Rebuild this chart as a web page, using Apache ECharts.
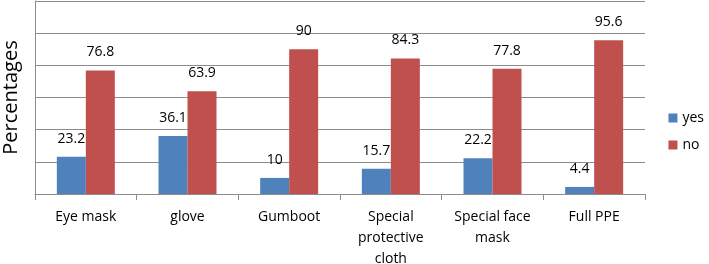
<!DOCTYPE html>
<html>
<head>
<meta charset="utf-8">
<script src="https://cdn.jsdelivr.net/npm/echarts@6/dist/echarts.min.js"></script>
<style>
  html, body { margin: 0; padding: 0; background: #fff; }
  #main { width: 709px; height: 264px; }
</style>
</head>
<body>
<div id="main"></div>
<script>
var categories = ['Eye mask', 'glove', 'Gumboot', 'Special\nprotective\ncloth', 'Special face\nmask', 'Full PPE'];
var yesValues = [23.2, 36.1, 10, 15.7, 22.2, 4.4];
var noValues = [76.8, 63.9, 90, 84.3, 77.8, 95.6];

var chart = echarts.init(document.getElementById('main'));

var labelStyle = {
  show: true,
  position: 'top',
  distance: 11,
  color: '#000',
  fontSize: 14,
  fontFamily: 'Open Sans'
};

var option = {
  animation: false,
  textStyle: { fontFamily: 'Open Sans' },
  grid: { left: 35, right: 64, top: 1, bottom: 70, outerBoundsMode: 'none' },
  legend: {
    orient: 'vertical',
    right: 0,
    top: 106,
    itemWidth: 9,
    itemHeight: 9,
    itemGap: 13,
    icon: 'rect',
    textStyle: { fontSize: 14, color: '#000', fontFamily: 'Open Sans' },
    data: ['yes', 'no']
  },
  xAxis: {
    type: 'category',
    data: categories,
    axisLine: { lineStyle: { color: '#8c8c8c' } },
    axisTick: { show: true, length: 6, lineStyle: { color: '#8c8c8c' } },
    axisLabel: { color: '#000', fontSize: 14, lineHeight: 21, margin: 13, interval: 0 }
  },
  yAxis: {
    type: 'value',
    min: 0,
    max: 120,
    interval: 20,
    name: 'Percentages',
    nameLocation: 'middle',
    nameGap: 14,
    nameTextStyle: { fontSize: 20, color: '#000', fontFamily: 'Open Sans' },
    axisLine: { show: true, lineStyle: { color: '#8c8c8c' } },
    axisTick: { show: false },
    axisLabel: { show: false },
    splitLine: { lineStyle: { color: '#8c8c8c' } }
  },
  series: [
    {
      name: 'yes',
      type: 'bar',
      data: yesValues,
      barWidth: 29,
      barGap: '0%',
      itemStyle: { color: '#4f81bd' },
      label: labelStyle
    },
    {
      name: 'no',
      type: 'bar',
      data: noValues,
      barWidth: 29,
      barGap: '0%',
      itemStyle: { color: '#c0504d' },
      label: labelStyle
    }
  ]
};

chart.setOption(option);
</script>
</body>
</html>
